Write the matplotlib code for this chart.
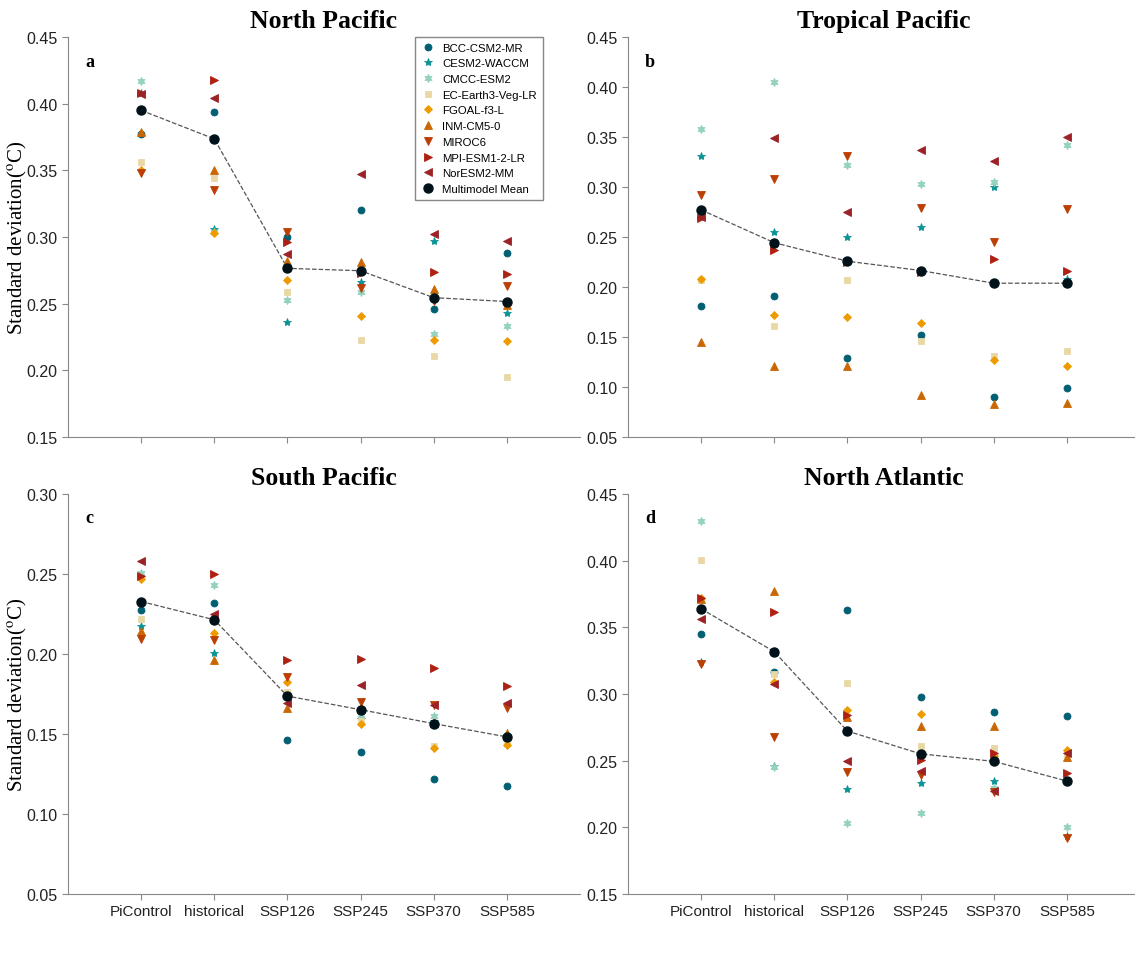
import numpy as np
import matplotlib
matplotlib.use("Agg")
import matplotlib.pyplot as plt

plt.rcParams['font.family'] = ['Liberation Sans', 'DejaVu Sans']
plt.rcParams['mathtext.fontset'] = 'stix'

scenarios = ["PiControl", "historical", "SSP126", "SSP245", "SSP370", "SSP585"]
models = ["BCC-CSM2-MR", "CESM2-WACCM", "CMCC-ESM2", "EC-Earth3-Veg-LR", "FGOAL-f3-L",
          "INM-CM5-0", "MIROC6", "MPI-ESM1-2-LR", "NorESM2-MM"]
colors = ["#005f73", "#0a9396", "#94d2bd", "#e9d8a6", "#ee9b00",
          "#ca6702", "#bb3e03", "#ae2012", "#9b2226"]
markers = ["o", "*", (6, 1, 0), "s", "D", "^", "v", ">", "<"]
msizes = [5, 6, 6, 4.5, 4.5, 5.5, 5.5, 5.5, 5.5]

# rows = models, columns = scenarios
north_pacific = [
    [0.377, 0.394, 0.300, 0.320, 0.246, 0.288],
    [0.408, 0.306, 0.236, 0.266, 0.297, 0.243],
    [0.417, 0.304, 0.253, 0.259, 0.227, 0.233],
    [0.356, 0.344, 0.259, 0.223, 0.211, 0.195],
    [0.350, 0.303, 0.268, 0.241, 0.223, 0.222],
    [0.379, 0.350, 0.282, 0.281, 0.261, 0.249],
    [0.348, 0.335, 0.304, 0.262, 0.252, 0.263],
    [0.408, 0.418, 0.296, 0.273, 0.274, 0.272],
    [0.407, 0.404, 0.287, 0.347, 0.302, 0.297],
]
north_pacific_mean = [0.395, 0.3736, 0.2765, 0.2747, 0.2545, 0.2516]

tropical_pacific = [
    [0.181, 0.1915, 0.129, 0.152, 0.090, 0.099],
    [0.331, 0.2555, 0.250, 0.260, 0.300, 0.208],
    [0.358, 0.405, 0.322, 0.303, 0.305, 0.342],
    [0.207, 0.161, 0.207, 0.146, 0.1315, 0.1365],
    [0.208, 0.172, 0.170, 0.164, 0.127, 0.121],
    [0.145, 0.121, 0.121, 0.092, 0.083, 0.0845],
    [0.292, 0.308, 0.331, 0.279, 0.245, 0.278],
    [0.269, 0.237, 0.225, 0.215, 0.228, 0.216],
    [0.270, 0.349, 0.275, 0.337, 0.326, 0.350],
]
tropical_pacific_mean = [0.2771, 0.2443, 0.2258, 0.2165, 0.2038, 0.2038]

south_pacific = [
    [0.2276, 0.232, 0.1461, 0.139, 0.122, 0.1173],
    [0.2178, 0.2004, 0.174, 0.1595, 0.158, 0.146],
    [0.2504, 0.2434, 0.1752, 0.1617, 0.1613, 0.147],
    [0.222, 0.223, 0.176, 0.158, 0.1424, 0.145],
    [0.2469, 0.2131, 0.1826, 0.1563, 0.1415, 0.1432],
    [0.2141, 0.1963, 0.166, 0.166, 0.157, 0.1505],
    [0.2091, 0.2085, 0.1857, 0.170, 0.168, 0.1662],
    [0.2488, 0.2502, 0.1963, 0.1971, 0.1911, 0.1801],
    [0.2579, 0.2251, 0.1695, 0.1807, 0.1681, 0.1693],
]
south_pacific_mean = [0.2328, 0.2214, 0.1737, 0.1652, 0.1565, 0.1482]

north_atlantic = [
    [0.3452, 0.3162, 0.3630, 0.2977, 0.2864, 0.2836],
    [0.324, 0.2458, 0.2284, 0.2336, 0.2347, 0.1938],
    [0.4296, 0.245, 0.2029, 0.2104, 0.2294, 0.2005],
    [0.4006, 0.315, 0.3081, 0.2613, 0.2595, 0.255],
    [0.372, 0.3088, 0.2880, 0.2850, 0.2533, 0.2577],
    [0.371, 0.3776, 0.2827, 0.2759, 0.2757, 0.2528],
    [0.3222, 0.2678, 0.2412, 0.2394, 0.2262, 0.192],
    [0.372, 0.3614, 0.2845, 0.2507, 0.2560, 0.2405],
    [0.3560, 0.3077, 0.25, 0.2424, 0.2271, 0.2560],
]
north_atlantic_mean = [0.3639, 0.3317, 0.2722, 0.2551, 0.2495, 0.2347]

W, H = 1135, 978
fig = plt.figure(figsize=(W / 100, H / 100), dpi=100)

panels = [
    ("North Pacific", "a", north_pacific, north_pacific_mean, (0.15, 0.45), [68, 438]),
    ("Tropical Pacific", "b", tropical_pacific, tropical_pacific_mean, (0.05, 0.45), [628, 438]),
    ("South Pacific", "c", south_pacific, south_pacific_mean, (0.05, 0.30), [68, 895]),
    ("North Atlantic", "d", north_atlantic, north_atlantic_mean, (0.15, 0.45), [628, 895]),
]

x = np.arange(1, len(scenarios) + 1)
for i, (title, letter, vals, mean, ylim, (left, bottom)) in enumerate(panels):
    ax = fig.add_axes([left / W, 1 - bottom / H, 512 / W, 400 / H])
    for m in range(len(models)):
        ax.plot(x, vals[m], linestyle='none', marker=markers[m], color=colors[m],
                markersize=msizes[m], markeredgewidth=0.6, label=models[m])
    ax.plot(x, mean, '--', color='#555555', linewidth=0.9, zorder=1)
    ax.plot(x, mean, linestyle='none', marker='o', color='#001219', markersize=6.5,
            label='Multimodel Mean', zorder=3)

    ax.set_xlim(0, 7)
    ax.set_ylim(*ylim)
    ax.set_xticks(x)
    ax.set_yticks(np.arange(ylim[0], ylim[1] + 0.001, 0.05))
    ax.yaxis.set_major_formatter(plt.FormatStrFormatter('%.2f'))
    if i >= 2:
        ax.set_xticklabels(scenarios)
    else:
        ax.set_xticklabels([])
    ax.tick_params(direction='out', length=4, color='#888888', labelsize=11,
                   labelcolor='#222222')
    ax.tick_params(axis='y', labelsize=11.5)
    for s in ['top', 'right']:
        ax.spines[s].set_visible(False)
    for s in ['left', 'bottom']:
        ax.spines[s].set_color('#888888')
    ax.set_title(title, family='Liberation Serif', fontweight='bold', fontsize=18.5, pad=7)
    ax.text(0.033, 0.94, letter, transform=ax.transAxes, family='Liberation Serif',
            fontweight='bold', fontsize=13, ha='left', va='center')
    if i % 2 == 0:
        ax.set_ylabel(r'Standard deviation($^{\rm o}$C)', family='Liberation Serif',
                      fontsize=15)
        ax.yaxis.set_label_coords(-0.076, 0.5)
    if i == 0:
        ax.legend(loc='upper left', bbox_to_anchor=(0.678, 1.0), fontsize=8.2,
                  labelspacing=0.5, handletextpad=0.6, handlelength=1.3,
                  borderpad=0.5, borderaxespad=0, fancybox=False,
                  edgecolor='#888888', framealpha=1)

fig.savefig("out.png", dpi=100)
